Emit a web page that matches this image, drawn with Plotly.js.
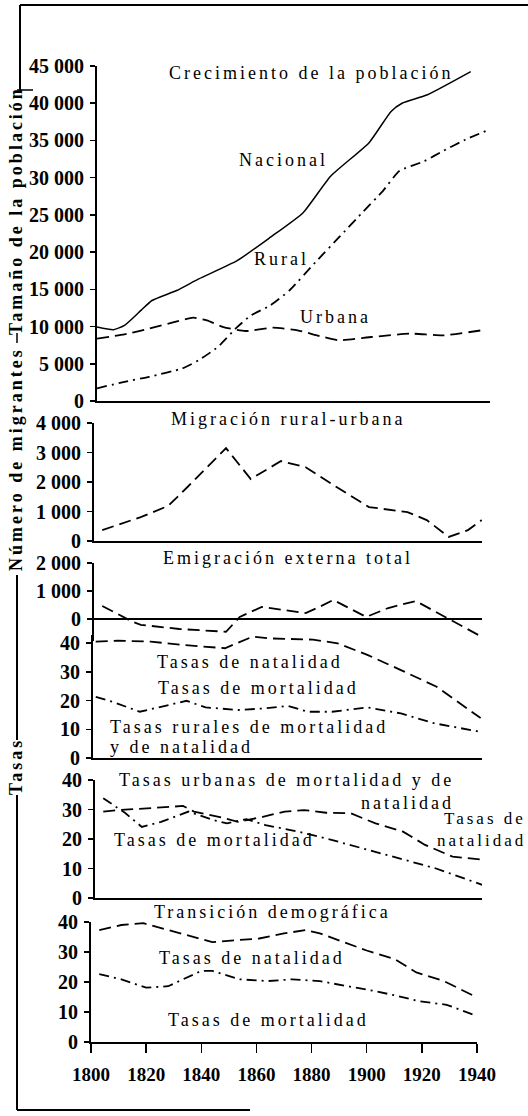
<!DOCTYPE html>
<html><head><meta charset="utf-8">
<script src="https://cdn.plot.ly/plotly-3.0.1.min.js"></script>
<style>
html,body{margin:0;padding:0;background:#fff;}
#chart{width:528px;height:1116px;}
.annotation-text{letter-spacing:3px;}
</style></head><body><div id="chart"></div>
<script>
// ---- Crecimiento de la población ----
const nacionalYears = [1800,1806,1810,1816,1820,1829,1837,1851,1863,1875,1885,1899,1907,1911,1920,1936];
const nacionalValues = [9930,9580,10160,12170,13500,14840,16400,18850,21970,25300,30200,34700,38900,40000,41100,44250];
const ruralYears = [1800,1810,1819,1831,1837,1844,1851,1856,1863,1870,1880,1888,1897,1904,1910,1919,1926,1934,1943];
const ruralValues = [1700,2580,3250,4370,5480,7260,9930,11500,12830,14840,18850,21970,25500,28200,30900,32200,33600,35100,36500];
const urbanaYears = [1800,1810,1819,1828,1835,1840,1846,1854,1864,1873,1880,1888,1900,1914,1926,1940];
const urbanaValues = [8380,8960,9720,10600,11190,10830,9930,9400,9850,9500,8820,8160,8600,9050,8820,9500];

// ---- Migración rural-urbana ----
const migYears = [1803,1817,1827,1834,1848,1857,1868,1877,1887,1900,1914,1921,1929,1936,1941];
const migValues = [370,810,1190,1830,3150,2100,2710,2500,1900,1150,980,710,140,370,710];

// ---- Emigración externa total ----
const emiYears = [1803,1814,1817,1831,1848,1853,1861,1877,1882,1887,1899,1907,1917,1928,1941];
const emiValues = [460,-100,-210,-360,-460,70,430,210,430,680,70,390,640,40,-640];

// ---- Tasas rurales ----
const rurNatYears = [1801,1809,1821,1833,1848,1854,1858,1865,1880,1889,1900,1912,1925,1941];
const rurNatValues = [40.5,40.8,40.5,39.3,38.2,40.5,42.2,41.6,41.2,39.9,35.8,30.6,24.8,13.9];
const rurMortYears = [1801,1807,1817,1825,1834,1841,1853,1863,1871,1878,1887,1900,1912,1924,1941];
const rurMortValues = [21.3,19.6,16.1,17.8,19.9,17.6,16.7,17.3,18.1,16.1,16.1,17.6,15.5,12.1,9.1];

// ---- Tasas urbanas ----
const urbNatYears = [1803,1808,1821,1832,1836,1845,1852,1861,1869,1876,1884,1893,1902,1912,1920,1930,1941];
const urbNatValues = [29.3,29.8,30.5,31.2,29.3,27.5,25.8,27.5,29.3,29.8,28.9,28.7,25.3,22.5,18,14,13];
const urbMortYears = [1803,1811,1817,1824,1834,1843,1848,1855,1862,1874,1886,1899,1912,1924,1941];
const urbMortValues = [33.8,28.8,24.1,25.8,29.3,26.4,25.3,26.7,24.7,22.5,19.7,16.3,12.9,10,4.4];

// ---- Transición demográfica ----
const trNatYears = [1803,1811,1819,1828,1835,1844,1852,1861,1870,1878,1883,1890,1900,1910,1918,1928,1939];
const trNatValues = [37.3,39,39.6,37.3,35.6,33.3,33.9,34.5,36.2,37.3,36.2,33.9,30.5,27.7,23.2,20.3,15.3];
const trMortYears = [1803,1811,1820,1828,1840,1844,1854,1864,1873,1883,1893,1900,1910,1919,1929,1939];
const trMortValues = [22.6,20.9,18.1,18.6,23.7,23.7,20.9,20.3,20.9,20.3,18.6,17.5,15.6,13.6,12.4,9.0];

// ---- Tick labels ----
const popTicks = [0,5000,10000,15000,20000,25000,30000,35000,40000,45000];
const popTickText = ['0','5 000','10 000','15 000','20 000','25 000','30 000','35 000','40 000','45 000'];
const migTicks = [0,1000,2000,3000,4000];
const migTickText = ['0','1 000','2 000','3 000','4 000'];
const emiTicks = [0,1000,2000];
const emiTickText = ['0','1 000','2 000'];
const rateTicks = [0,10,20,30,40];
const yearTicks = [1800,1820,1840,1860,1880,1900,1920,1940];

const W=528,H=1116;
const px=x=>x/W, py=y=>1-y/H;
const xd=(a,b)=>[px(a),px(b)];
const yd=(top,bottom)=>[py(bottom),py(top)];
const serif='"Liberation Serif","Times New Roman",serif';
const BLACK='#000';
const DASH='12px,6px', DASHDOT='10px,5px,2px,5px';

function tr(x,y,xa,ya,dash,w,shape){
  return {x:x,y:y,xaxis:xa,yaxis:ya,type:'scatter',mode:'lines',hoverinfo:'skip',
    line:{color:BLACK,width:w||1.8,dash:dash||'solid',shape:shape||'linear',smoothing:0.5}};
}
const data=[
  tr(nacionalYears,nacionalValues,'x','y','solid',1.5,'spline'),
  tr(ruralYears,ruralValues,'x','y',DASHDOT,1.8,'spline'),
  tr(urbanaYears,urbanaValues,'x','y',DASH,1.8,'spline'),
  tr(migYears,migValues,'x2','y2',DASH,1.8),
  tr(emiYears,emiValues,'x3','y3',DASH,1.8),
  tr(rurNatYears,rurNatValues,'x4','y4',DASH,1.8),
  tr(rurMortYears,rurMortValues,'x4','y4',DASHDOT,1.8),
  tr(urbNatYears,urbNatValues,'x5','y5',DASH,1.8),
  tr(urbMortYears,urbMortValues,'x5','y5',DASHDOT,1.8),
  tr(trNatYears,trNatValues,'x6','y6',DASH,1.8),
  tr(trMortYears,trMortValues,'x6','y6',DASHDOT,1.8)
];

const yTickFont={family:serif,size:20,color:BLACK,weight:'bold'};
function yax(domain,range,tv,tt,anchor,extra){
  return Object.assign({domain:domain,range:range,anchor:anchor,tickvals:tv,ticktext:tt,
    showline:true,linewidth:2,linecolor:BLACK,ticks:'outside',ticklen:5,tickwidth:1.5,tickcolor:BLACK,
    showgrid:false,zeroline:false,tickfont:yTickFont,fixedrange:true,ticklabelstandoff:2},extra||{});
}
function xax(domain,range,anchor,extra){
  return Object.assign({domain:domain,range:range,anchor:anchor,showline:true,linewidth:2,linecolor:BLACK,
    ticks:'',showticklabels:false,showgrid:false,zeroline:false,fixedrange:true},extra||{});
}

const layout={
  width:W,height:H,margin:{l:0,r:0,t:0,b:0},showlegend:false,
  paper_bgcolor:'#fff',plot_bgcolor:'rgba(0,0,0,0)',
  xaxis: xax(xd(97,490),[1800,1943],'y'),
  yaxis: yax(yd(66,401),[0,45000],popTicks,popTickText,'x'),
  xaxis2: xax(xd(94,482),[1800,1941.1],'y2'),
  yaxis2: yax(yd(423,541),[0,4000],migTicks,migTickText,'x2'),
  xaxis3: xax(xd(94,482),[1800,1941.1],'y3',{showline:false}),
  yaxis3: yax(yd(563,641),[-790,2000],emiTicks,emiTickText,'x3',{zeroline:true,zerolinewidth:2,zerolinecolor:BLACK}),
  xaxis4: xax(xd(93,482),[1800,1941.5],'y4'),
  yaxis4: yax(yd(635,758),[0,42.8],rateTicks,null,'x4'),
  xaxis5: xax(xd(95,482),[1800,1940.7],'y5'),
  yaxis5: yax(yd(780,898),[0,40],rateTicks,null,'x5'),
  xaxis6: xax(xd(91,477),[1800,1940],'y6',{ticks:'outside',ticklen:9,tickwidth:1.5,tickcolor:BLACK,
      showticklabels:true,tickvals:yearTicks,tickfont:{family:serif,size:19,color:BLACK,weight:'bold'},ticklabelstandoff:5}),
  yaxis6: yax(yd(922,1042),[0,40],rateTicks,null,'x6'),
  shapes:[],annotations:[]
};

function seg(x0,y0,x1,y1,w){
  layout.shapes.push({type:'line',xref:'paper',yref:'paper',x0:px(x0),y0:py(y0),x1:px(x1),y1:py(y1),
    line:{color:BLACK,width:w||2}});
}
// outer frame / bracket lines
seg(20,5,528,5,2);
seg(20,5,20,90,2);
seg(17,90,33,90,1.5);
seg(17,333,17,343,1.5);
seg(17,575,17,740,2);
seg(17,795,17,1110,2);
seg(17,1110,250,1110,2);

function ann(text,x,y,opts){
  layout.annotations.push(Object.assign({text:text,xref:'paper',yref:'paper',x:px(x),y:py(y),
    showarrow:false,xanchor:'center',yanchor:'middle',
    font:{family:serif,size:18,color:BLACK}},opts||{}));
}
const boldSide={font:{family:serif,size:18,color:BLACK,weight:'bold'},textangle:-90};
ann('Tamaño de la población',16,211,boldSide);
ann('Número de migrantes',16,459,boldSide);
ann('Tasas',16,767,boldSide);

ann('Crecimiento de la población',311,73);
ann('Nacional',283,160);
ann('Rural',281,259);
ann('Urbana',335,317);
ann('Migración rural-urbana',288,419);
ann('Emigración externa total',288,558);
ann('Tasas de natalidad',250,662);
ann('Tasas de mortalidad',258,688);
ann('Tasas rurales de mortalidad',108,727,{xanchor:'left'});
ann('y de natalidad',108,747,{xanchor:'left'});
ann('Tasas urbanas de mortalidad y de',456,780,{xanchor:'right'});
ann('natalidad',456,803,{xanchor:'right'});
ann('Tasas de mortalidad',214,840);
const sideSmall={xanchor:'right',font:{family:serif,size:17,color:BLACK}};
ann('Tasas de',528,818,sideSmall);
ann('natalidad',528,840,sideSmall);
ann('Transición demográfica',272,912);
ann('Tasas de natalidad',252,958);
ann('Tasas de mortalidad',268,1020);

Plotly.newPlot('chart',data,layout,{staticPlot:true,displayModeBar:false});
</script></body></html>
